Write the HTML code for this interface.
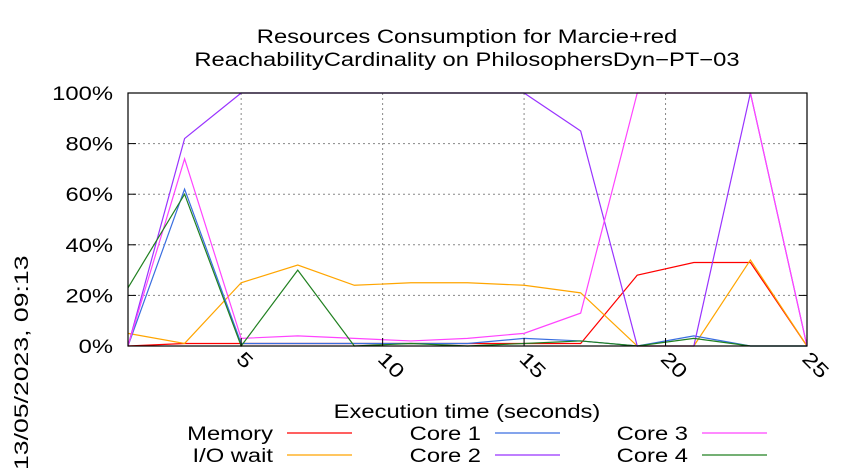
<!DOCTYPE html>
<html><head><meta charset="utf-8"><style>
body{margin:0;background:#fff}
svg{display:block;font-family:"Liberation Sans",sans-serif}
</style></head><body>
<svg id="chart" width="850" height="475">
<text class="st" x="467" y="43" font-size="19" text-anchor="middle">Resources Consumption for Marcie+red</text>
<text class="st" x="467" y="66" font-size="19" text-anchor="middle">ReachabilityCardinality on PhilosophersDyn−PT−03</text>
<text id="ts" transform="translate(28,470) rotate(-90)" font-size="19">13/05/2023, 09:13</text>
<text class="st" x="467" y="418" font-size="19" text-anchor="middle">Execution time (seconds)</text>
<g id="grid"></g><g id="series"></g><g id="axes"></g><g id="legend"></g>
</svg>
<script>
const xs=[1,3,5,7,9,11,13,15,17,19,21,23,25];
const memory=[0,1,1,1,1,1,1,1,1,28,33,33,0];
const iowait=[5,1,25,32,24,25,25,24,21,0,0,34,0];
const core1=[0,62,1,1,1,1,1,3,2,0,4,0,0];
const core2=[0,82,100,100,100,100,100,100,85,0,0,100,0];
const core3=[0,74,3,4,3,2,3,5,13,100,100,100,0];
const core4=[23,60,0,30,0,1,0,1,2,0,3,0,0];
const xTicks=[5,10,15,20,25];
const yTicks=[0,20,40,60,80,100];
const seriesNames=["Memory","I/O wait","Core 1","Core 2","Core 3","Core 4"];
const NS="http://www.w3.org/2000/svg";
const L=128,R=807,T=93,B=346;
const X=v=>L+(v-1)*(R-L)/24;
const Y=v=>B-v*(B-T)/100;
function mk(tag,attrs,parent){const e=document.createElementNS(NS,tag);for(const k in attrs)e.setAttribute(k,attrs[k]);parent.appendChild(e);return e;}
const grid=document.getElementById('grid'),axes=document.getElementById('axes'),sg=document.getElementById('series'),lg=document.getElementById('legend');
yTicks.forEach(t=>{
 if(t>0&&t<100){const g=mk('line',{x1:L,x2:R,y1:Y(t),y2:Y(t),stroke:'#888','stroke-dasharray':'2,3'},grid);
 
 }
 const tx=mk('text',{x:113,y:Y(t)+7,'font-size':19,'text-anchor':'end','class':'st'},axes);tx.textContent=t+'%';
 
 
 mk('line',{x1:L,x2:L+8,y1:Y(t),y2:Y(t),stroke:'#000'},axes);
 mk('line',{x1:R,x2:R-8,y1:Y(t),y2:Y(t),stroke:'#000'},axes);
});
mk('line',{x1:L,x2:R,y1:T,y2:T,stroke:'#888','stroke-dasharray':'2,3'},grid);
xTicks.forEach(t=>{
 if(t<25){const g=mk('line',{x1:X(t),x2:X(t),y1:T,y2:B,stroke:'#888','stroke-dasharray':'2,3'},grid);
 
 }
 mk('line',{x1:X(t),x2:X(t),y1:B,y2:B-8,stroke:'#000'},axes);
 const tx=mk('text',{transform:`translate(${X(t)-6},360) rotate(45)`,'font-size':20,'class':'st'},axes);tx.textContent=t;
 
 
});
const fr=mk('rect',{x:L,y:T,width:R-L,height:B-T,fill:'none',stroke:'#000','stroke-width':1.2},axes);


const data=[memory,iowait,core1,core2,core3,core4];
const colors=['#ff0000','#ffa500','#3a6ee0','#9933ff','#ff44ff','#208020'];
const ids=['memory','io-wait','core-1','core-2','core-3','core-4'];
data.forEach((d,i)=>{
 const p=mk('polyline',{points:d.map((v,j)=>X(xs[j])+','+Y(v)).join(' '),fill:'none',stroke:colors[i],'stroke-width':1.2},sg);
 
 
});
const colRight=[273,481,688],rows=[440,462];
const order=[[0,1],[2,3],[4,5]];
order.forEach((pair,c)=>pair.forEach((si,r)=>{
 const g=mk('g',{},lg);
 
 
 const tx=mk('text',{x:colRight[c],y:rows[r],'font-size':19,'text-anchor':'end','class':'st'},g);tx.textContent=seriesNames[si];
 mk('line',{x1:colRight[c]+14,x2:colRight[c]+79,y1:rows[r]-7,y2:rows[r]-7,stroke:colors[si],'stroke-width':1.2},g);
}));
document.querySelectorAll('text.st').forEach(t=>{
 const w=t.getComputedTextLength();
 t.setAttribute('textLength',(w*1.25).toFixed(1));
 t.setAttribute('lengthAdjust','spacingAndGlyphs');
});
const ts=document.getElementById('ts');
ts.setAttribute('textLength',(ts.getComputedTextLength()*1.4).toFixed(1));
ts.setAttribute('lengthAdjust','spacingAndGlyphs');
</script>
</body></html>
